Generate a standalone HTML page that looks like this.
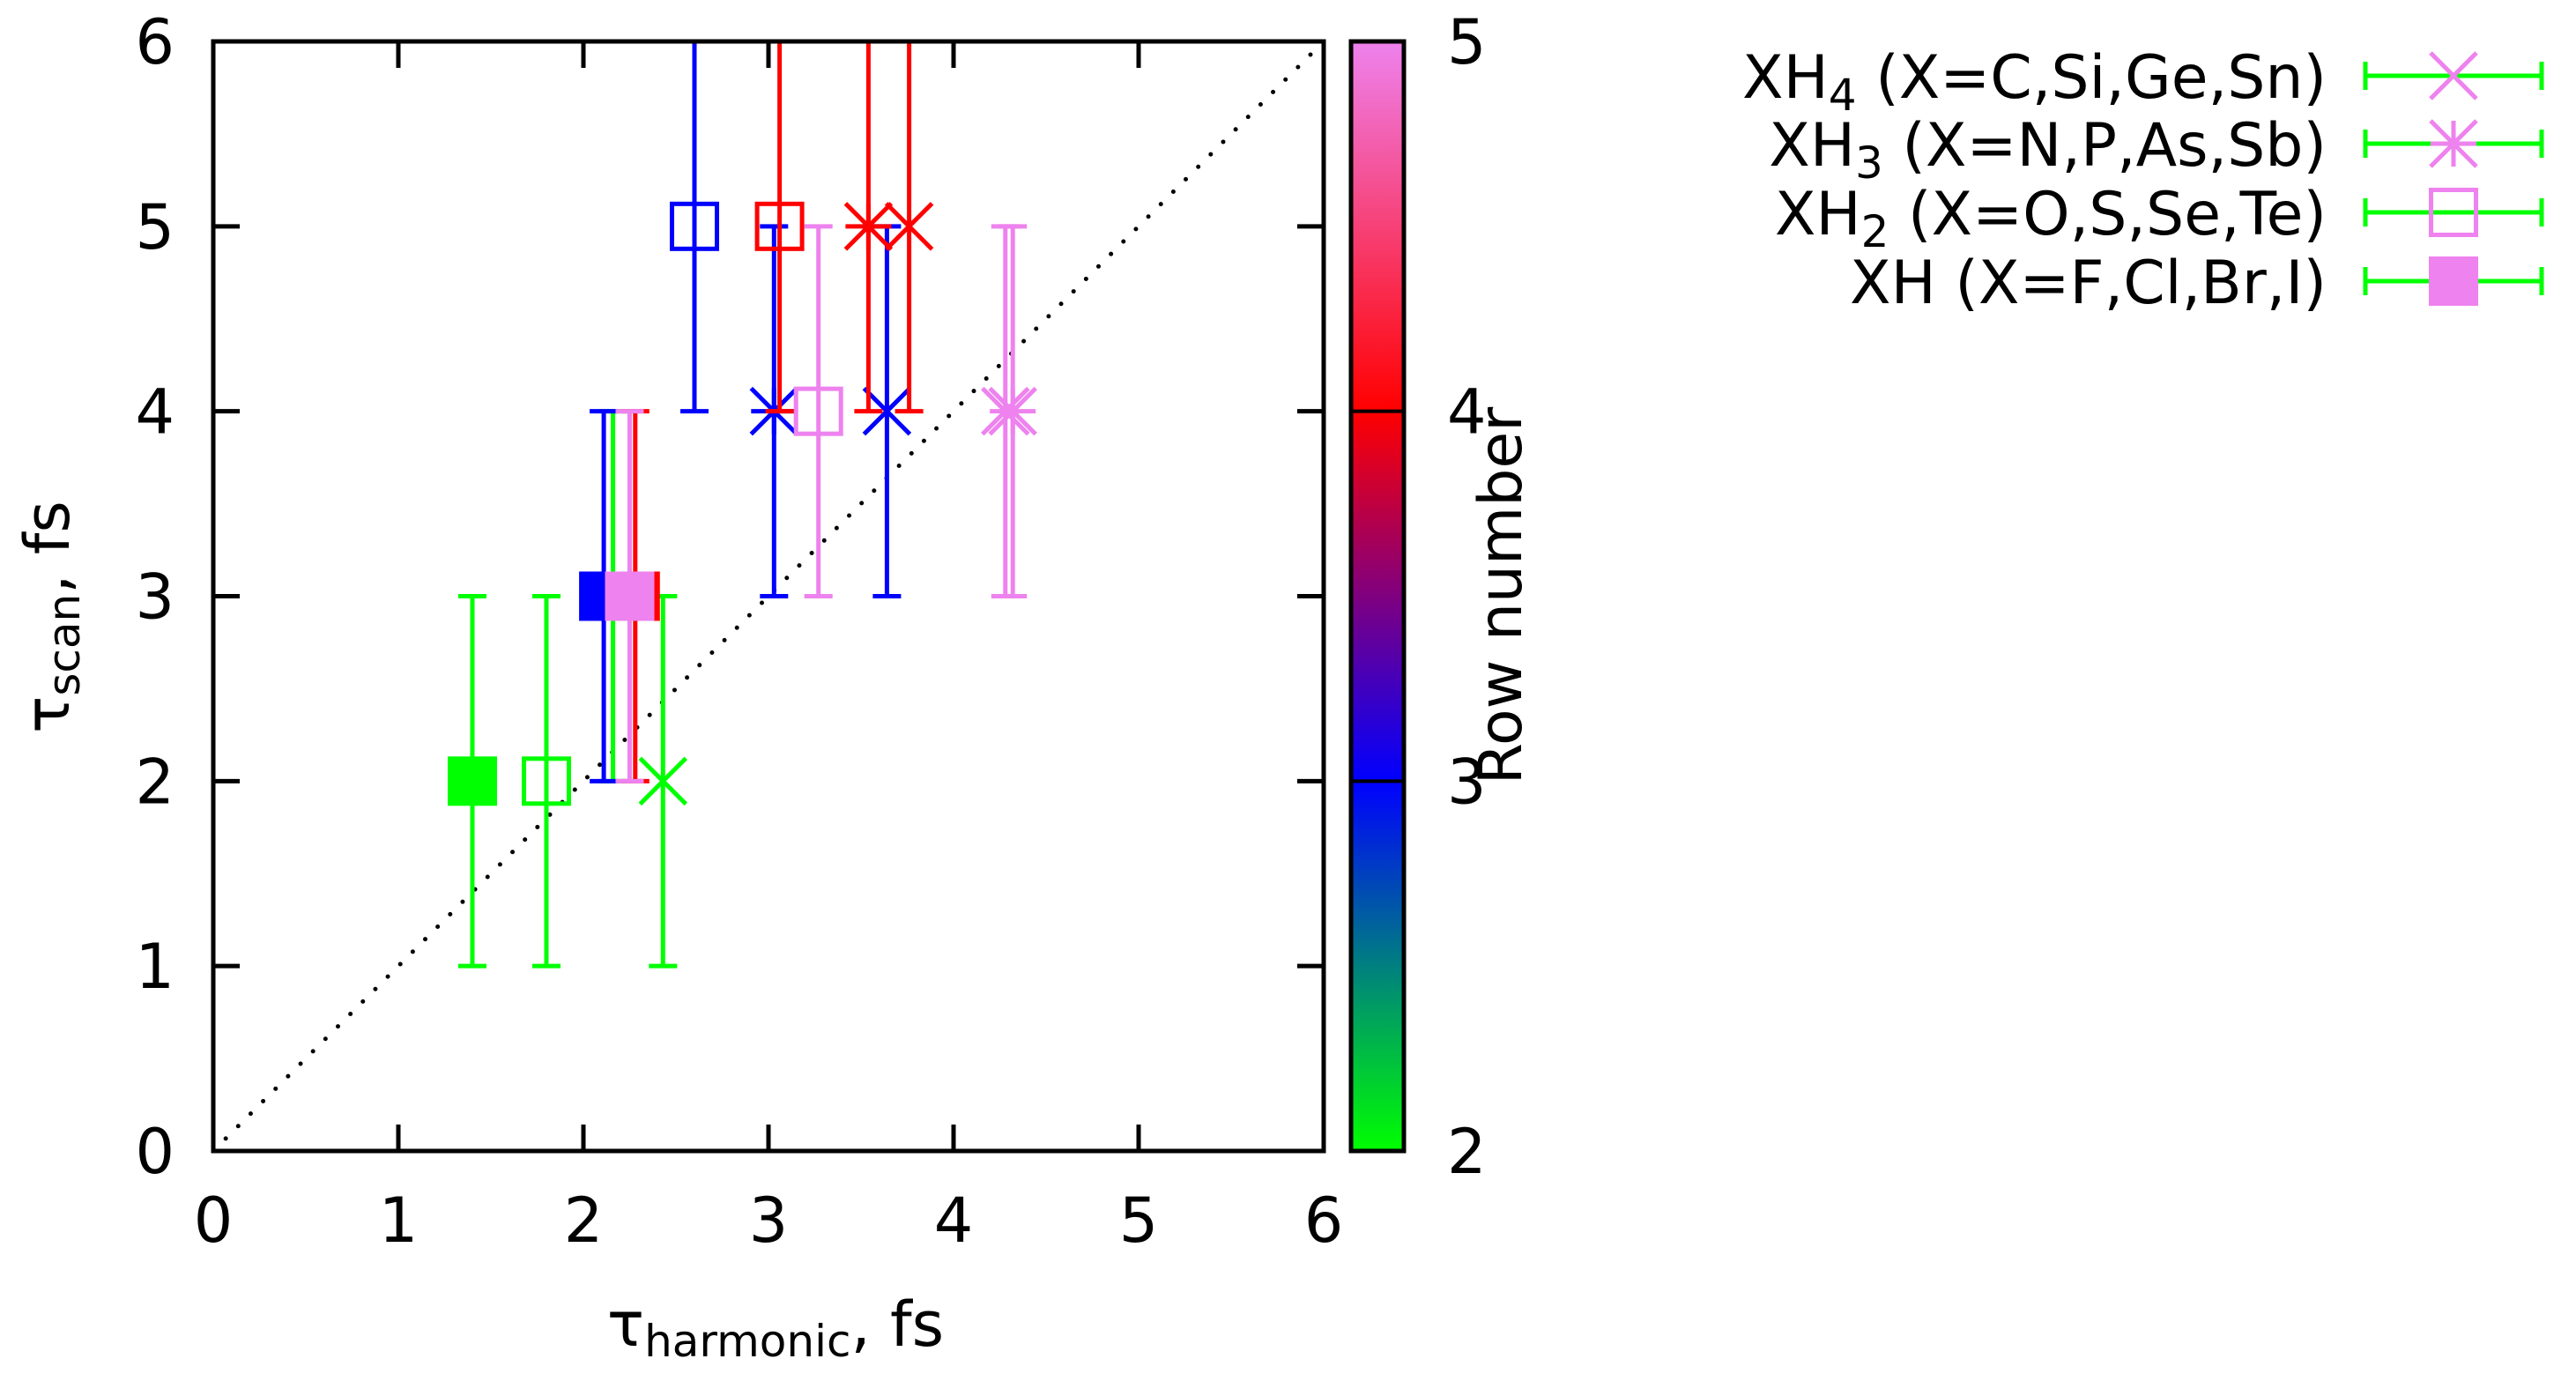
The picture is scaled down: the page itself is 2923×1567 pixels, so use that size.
<!DOCTYPE html>
<html><head><meta charset="utf-8"><style>
html,body{margin:0;padding:0;background:#fff;}
svg{display:block;font-family:"DejaVu Sans","Liberation Sans",sans-serif;}
</style></head><body>
<svg id="chart" xmlns="http://www.w3.org/2000/svg" width="2923" height="1567" viewBox="0 0 2923 1567">
<defs>
<linearGradient id="cb" x1="0" y1="1" x2="0" y2="0">
<stop offset="0" stop-color="#00ff00"/><stop offset="0.3333" stop-color="#0000ff"/>
<stop offset="0.6667" stop-color="#ff0000"/><stop offset="1" stop-color="#ee82ee"/>
</linearGradient>
</defs>
<g id="marks"></g>
<g id="axes"></g>
</svg>
<script>
// data: series per molecule type
const xTicks = [0,1,2,3,4,5,6];
const yTicks = [0,1,2,3,4,5,6];
const cbTicks = [2,3,4,5];
// XH4 (crosses)
const xh4X = [2.43, 3.64, 3.76, 4.28];
const xh4Y = [2, 4, 5, 4];
const xh4Lo = [1, 3, 4, 3];
const xh4Hi = [3, 5, 6, 5];
const xh4Row = [2, 3, 4, 5];
// XH3 (asterisks)
const xh3X = [2.16, 3.03, 3.54, 4.32];
const xh3Y = [3, 4, 5, 4];
const xh3Lo = [2, 3, 4, 3];
const xh3Hi = [4, 5, 6, 5];
const xh3Row = [2, 3, 4, 5];
// XH2 (open squares)
const xh2X = [1.80, 2.60, 3.06, 3.27];
const xh2Y = [2, 5, 5, 4];
const xh2Lo = [1, 4, 4, 3];
const xh2Hi = [3, 6, 6, 5];
const xh2Row = [2, 3, 4, 5];
// XH (filled squares)
const xhX = [1.40, 2.11, 2.28, 2.25];
const xhY = [2, 3, 3, 3];
const xhLo = [1, 2, 2, 2];
const xhHi = [3, 4, 4, 4];
const xhRow = [2, 3, 4, 5];

const NS = "http://www.w3.org/2000/svg";
const L = 242, R = 1502, T = 47, B = 1306;
const sx = v => L + (v - 0) / 6 * (R - L);
const sy = v => B - (v - 0) / 6 * (B - T);
const cbL = 1533, cbR = 1593;
const cy = v => B - (v - 2) / 3 * (B - T);
function rowColor(r){
  const stops = [[0,255,0],[0,0,255],[255,0,0],[238,130,238]];
  let i = Math.min(2, Math.max(0, Math.floor(r - 2)));
  let t = Math.min(1, Math.max(0, r - 2 - i));
  const a = stops[i], b = stops[i+1];
  return `rgb(${a.map((c,k)=>Math.round(c+(b[k]-c)*t)).join(',')})`;
}
function mk(tag, attrs, parent){
  const e = document.createElementNS(NS, tag);
  for (const k in attrs) e.setAttribute(k, attrs[k]);
  parent.appendChild(e); return e;
}
const marks = document.getElementById('marks');
const axes = document.getElementById('axes');

// clip
const defs = document.querySelector('defs');
const cp = mk('clipPath', {id:'plotclip'}, defs);
mk('rect', {x:L, y:T, width:R-L, height:B-T}, cp);
marks.setAttribute('clip-path', 'url(#plotclip)');

// diagonal
const diag = mk('line', {x1:sx(0), y1:sy(0), x2:sx(6), y2:sy(6), stroke:'#000', 'stroke-width':5, 'stroke-dasharray':'0 20', 'stroke-linecap':'round'}, marks);



function errbar(x, lo, hi, col, g){
  const X = sx(x);
  mk('line', {x1:X, y1:sy(lo), x2:X, y2:sy(hi), stroke:col, 'stroke-width':5}, g);
  mk('line', {x1:X-16, y1:sy(lo), x2:X+16, y2:sy(lo), stroke:col, 'stroke-width':5}, g);
  mk('line', {x1:X-16, y1:sy(hi), x2:X+16, y2:sy(hi), stroke:col, 'stroke-width':5}, g);
}
function symbol(type, X, Y, col, g){
  const h = 26;
  if (type === 'cross' || type === 'star'){
    mk('line', {x1:X-h, y1:Y-h, x2:X+h, y2:Y+h, stroke:col, 'stroke-width':5}, g);
    mk('line', {x1:X-h, y1:Y+h, x2:X+h, y2:Y-h, stroke:col, 'stroke-width':5}, g);
    if (type === 'star'){
      mk('line', {x1:X, y1:Y-h, x2:X, y2:Y+h, stroke:col, 'stroke-width':5}, g);
      mk('line', {x1:X-h, y1:Y, x2:X+h, y2:Y, stroke:col, 'stroke-width':5}, g);
    }
  } else if (type === 'open'){
    mk('rect', {x:X-25.5, y:Y-25.5, width:51, height:51, fill:'none', stroke:col, 'stroke-width':5}, g);
  } else {
    mk('rect', {x:X-28, y:Y-28, width:56, height:56, fill:col}, g);
  }
}
function series(name, type, xs, ys, los, his, rows){
  const g = mk('g', {}, marks);
  
  
  xs.forEach((x, i) => {
    const col = rowColor(rows[i]);
    const p = mk('g', {}, g);
    
    
    errbar(x, los[i], his[i], col, p);
    symbol(type, sx(x), sy(ys[i]), col, p);
  });
}
series('xh4-series', 'cross', xh4X, xh4Y, xh4Lo, xh4Hi, xh4Row);
series('xh3-series', 'star', xh3X, xh3Y, xh3Lo, xh3Hi, xh3Row);
series('xh2-series', 'open', xh2X, xh2Y, xh2Lo, xh2Hi, xh2Row);
series('xh-series', 'filled', xhX, xhY, xhLo, xhHi, xhRow);

// frame
const fr = mk('rect', {x:L, y:T, width:R-L, height:B-T, fill:'none', stroke:'#000', 'stroke-width':5}, axes);


xTicks.forEach(v => {
  const X = sx(v);
  if (v > 0 && v < 6){
    mk('line', {x1:X, y1:B, x2:X, y2:B-30, stroke:'#000', 'stroke-width':5}, axes);
    mk('line', {x1:X, y1:T, x2:X, y2:T+30, stroke:'#000', 'stroke-width':5}, axes);
  }
  const t = mk('text', {x:X, y:1409, 'font-size':70, 'text-anchor':'middle', fill:'#000'}, axes);
  t.textContent = v;
  
  
});
yTicks.forEach(v => {
  const Y = sy(v);
  if (v > 0 && v < 6){
    mk('line', {x1:L, y1:Y, x2:L+30, y2:Y, stroke:'#000', 'stroke-width':5}, axes);
    mk('line', {x1:R, y1:Y, x2:R-30, y2:Y, stroke:'#000', 'stroke-width':5}, axes);
  }
  const t = mk('text', {x:198, y:Y+25, 'font-size':70, 'text-anchor':'end', fill:'#000'}, axes);
  t.textContent = v;
  
  
});

// colorbar
const cb = mk('rect', {x:cbL, y:T, width:cbR-cbL, height:B-T, fill:'url(#cb)', stroke:'#000', 'stroke-width':5}, axes);


cbTicks.forEach(v => {
  const Y = cy(v);
  if (v > 2 && v < 5) mk('line', {x1:cbL, y1:Y, x2:cbR, y2:Y, stroke:'#000', 'stroke-width':4}, axes);
  const t = mk('text', {x:1642, y:Y+25, 'font-size':70, fill:'#000'}, axes);
  t.textContent = v;
  
  
});
</script>
<svg width="0" height="0"></svg>
<script>
const svg = document.getElementById('chart');
const a = document.getElementById('axes');
function txt(html, attrs, name){
  const t = document.createElementNS("http://www.w3.org/2000/svg", 'text');
  for (const k in attrs) t.setAttribute(k, attrs[k]);
  t.innerHTML = html;
  
  
  a.appendChild(t);
}
txt('Row number', {x:0, y:0, 'font-size':68, 'text-anchor':'middle', transform:'translate(1726,676) rotate(-90)'}, 'colorbar-title');
txt('τ<tspan font-size="50" dy="12">harmonic</tspan><tspan dy="-12">, fs</tspan>', {x:880, y:1527, 'font-size':70, 'text-anchor':'middle'}, 'x-axis-title');
txt('τ<tspan font-size="50" dy="12">scan</tspan><tspan dy="-12">, fs</tspan>', {x:0, y:0, 'font-size':70, 'text-anchor':'middle', transform:'translate(78,700) rotate(-90)'}, 'y-axis-title');

// legend
const legLabels = ['XH<tspan font-size="50" dy="14">4</tspan><tspan dy="-14"> (X=C,Si,Ge,Sn)</tspan>',
  'XH<tspan font-size="50" dy="14">3</tspan><tspan dy="-14"> (X=N,P,As,Sb)</tspan>',
  'XH<tspan font-size="50" dy="14">2</tspan><tspan dy="-14"> (X=O,S,Se,Te)</tspan>',
  'XH (X=F,Cl,Br,I)'];
const legY = [86, 163, 241, 319];
const legTypes = ['cross','star','open','filled'];
const NS2 = "http://www.w3.org/2000/svg";
legLabels.forEach((l, i) => {
  const g = document.createElementNS(NS2, 'g');
  
  
  a.appendChild(g);
  const t = document.createElementNS(NS2, 'text');
  t.setAttribute('x', 2640); t.setAttribute('y', legY[i] + 25);
  t.setAttribute('font-size', 68); t.setAttribute('text-anchor', 'end');
  t.innerHTML = l;
  
  
  g.appendChild(t);
  const Y = legY[i], x1 = 2684, x2 = 2884, X = 2784;
  const add = (tag, at) => { const e = document.createElementNS(NS2, tag); for (const k in at) e.setAttribute(k, at[k]); g.appendChild(e); return e; };
  add('line', {x1:x1, y1:Y, x2:x2, y2:Y, stroke:'#00ff00', 'stroke-width':5});
  add('line', {x1:x1, y1:Y-16, x2:x1, y2:Y+16, stroke:'#00ff00', 'stroke-width':5});
  add('line', {x1:x2, y1:Y-16, x2:x2, y2:Y+16, stroke:'#00ff00', 'stroke-width':5});
  const c = '#ee82ee', h = 26, ty = legTypes[i];
  if (ty === 'cross' || ty === 'star'){
    add('line', {x1:X-h, y1:Y-h, x2:X+h, y2:Y+h, stroke:c, 'stroke-width':5});
    add('line', {x1:X-h, y1:Y+h, x2:X+h, y2:Y-h, stroke:c, 'stroke-width':5});
    if (ty === 'star'){
      add('line', {x1:X, y1:Y-h, x2:X, y2:Y+h, stroke:c, 'stroke-width':5});
      add('line', {x1:X-h, y1:Y, x2:X+h, y2:Y, stroke:c, 'stroke-width':5});
    }
  } else if (ty === 'open'){
    add('rect', {x:X-25.5, y:Y-25.5, width:51, height:51, fill:'none', stroke:c, 'stroke-width':5});
  } else {
    add('rect', {x:X-28, y:Y-28, width:56, height:56, fill:c});
  }
});
</script>
</body></html>
